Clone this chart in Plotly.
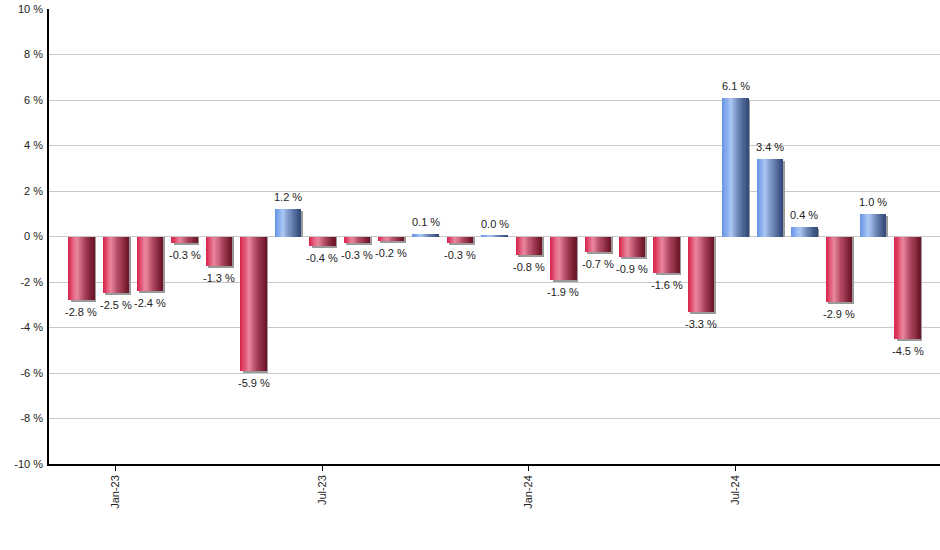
import plotly.graph_objects as go

months = ["Dec-22", "Jan-23", "Feb-23", "Mar-23", "Apr-23", "May-23", "Jun-23",
          "Jul-23", "Aug-23", "Sep-23", "Oct-23", "Nov-23", "Dec-23",
          "Jan-24", "Feb-24", "Mar-24", "Apr-24", "May-24", "Jun-24",
          "Jul-24", "Aug-24", "Sep-24", "Oct-24", "Nov-24", "Dec-24"]
values = [-2.8, -2.5, -2.4, -0.3, -1.3, -5.9, 1.2,
          -0.4, -0.3, -0.2, 0.1, -0.3, 0.04,
          -0.8, -1.9, -0.7, -0.9, -1.6, -3.3,
          6.1, 3.4, 0.4, -2.9, 1.0, -4.5]
labels = ["-2.8 %", "-2.5 %", "-2.4 %", "-0.3 %", "-1.3 %", "-5.9 %", "1.2 %",
          "-0.4 %", "-0.3 %", "-0.2 %", "0.1 %", "-0.3 %", "0.0 %",
          "-0.8 %", "-1.9 %", "-0.7 %", "-0.9 %", "-1.6 %", "-3.3 %",
          "6.1 %", "3.4 %", "0.4 %", "-2.9 %", "1.0 %", "-4.5 %"]
x_tick_vals = ["Jan-23", "Jul-23", "Jan-24", "Jul-24"]
y_tick_vals = [-10, -8, -6, -4, -2, 0, 2, 4, 6, 8, 10]
y_tick_text = ["-10 %", "-8 %", "-6 %", "-4 %", "-2 %", "0 %", "2 %", "4 %", "6 %", "8 %", "10 %"]

FONT = "Arial, Liberation Sans, sans-serif"

red_stops = [(0.0, (216, 31, 72)), (0.33, (234, 136, 158)), (0.62, (176, 72, 98)), (1.0, (108, 20, 38))]
blue_stops = [(0.0, (100, 146, 230)), (0.33, (172, 200, 244)), (0.62, (110, 136, 184)), (1.0, (50, 72, 120))]


def interp(stops, t):
    for (t0, c0), (t1, c1) in zip(stops[:-1], stops[1:]):
        if t <= t1:
            f = (t - t0) / (t1 - t0) if t1 > t0 else 0
            return "rgb(%d,%d,%d)" % tuple(round(a + (b - a) * f) for a, b in zip(c0, c1))
    c = stops[-1][1]
    return "rgb(%d,%d,%d)" % c


fig = go.Figure()

BW = 0.74
# shadow: bar shifted 2px right and 2px down
dy = 2 / 22.75
dx = 2 / 34.44
shadow_y = [v - dy if v < 0 else max(v - dy, 0) for v in values]
fig.add_trace(go.Bar(x=months, y=shadow_y, width=BW, offset=-BW / 2 + dx,
                     marker=dict(color="#9a9a9a", line=dict(width=0)),
                     hoverinfo="skip", showlegend=False))

N = 24
sw = BW / N
for i in range(N):
    t = (i + 0.5) / N
    cols = [interp(blue_stops if v >= 0 else red_stops, t) for v in values]
    fig.add_trace(go.Bar(x=months, y=values, width=sw * 1.15, offset=-BW / 2 + i * sw,
                         marker=dict(color=cols, line=dict(width=0)),
                         hoverinfo="skip", showlegend=False))

annotations = []
for m, v, lab in zip(months, values, labels):
    if v >= 0:
        annotations.append(dict(x=m, y=v, text=lab, showarrow=False, yanchor="bottom",
                                yshift=4, font=dict(family=FONT, size=11, color="#222")))
    else:
        annotations.append(dict(x=m, y=v, text=lab, showarrow=False, yanchor="top",
                                yshift=-4, font=dict(family=FONT, size=11, color="#222")))

fig.update_layout(
    width=940, height=550,
    margin=dict(l=49, r=0, t=9, b=86),
    paper_bgcolor="white", plot_bgcolor="white",
    barmode="overlay", bargap=0,
    showlegend=False,
    annotations=annotations,
    font=dict(family=FONT, size=11, color="#222"),
    xaxis=dict(type="category", categoryorder="array", categoryarray=months,
               range=[-0.94, 24.94], tickmode="array", tickvals=x_tick_vals,
               ticktext=x_tick_vals, tickangle=-90, ticks="outside", ticklen=5,
               tickcolor="black", showgrid=False, showline=True, linecolor="black",
               linewidth=1.5, zeroline=False, automargin=False,
               tickfont=dict(family=FONT, size=11, color="#222")),
    yaxis=dict(range=[-10, 10], tickmode="array", tickvals=y_tick_vals, ticktext=y_tick_text,
               showgrid=True, gridcolor="#c8c8c8", gridwidth=1, zeroline=True,
               zerolinecolor="#c8c8c8", zerolinewidth=1, showline=True, linecolor="black",
               linewidth=1.5, ticks="", ticklabelstandoff=2, automargin=False,
               tickfont=dict(family=FONT, size=11, color="#222")),
)

fig.write_html("out.html", config={"displayModeBar": False},
               post_script="document.body.style.margin='0';")
